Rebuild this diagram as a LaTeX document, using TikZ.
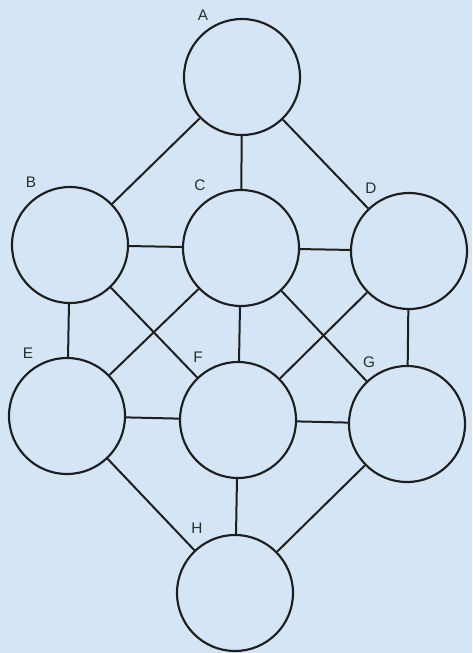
\documentclass[tikz,border=0pt]{standalone}
\usepackage{fontspec}
\setmainfont{Liberation Sans}
\definecolor{bg}{RGB}{212,230,246}
\definecolor{ink}{RGB}{30,30,30}
\definecolor{lab}{RGB}{45,45,45}
\begin{document}
\begin{tikzpicture}[x=0.75pt,y=-0.75pt,
  vert/.style={circle,draw=ink,line width=1.6pt,minimum size=87pt,inner sep=0pt},
  edge/.style={draw=ink,line width=1.5pt},
  lbl/.style={text=lab,font=\fontsize{11.5}{13}\selectfont,inner sep=0pt}]
\fill[bg] (0,0) rectangle (472,653);
\useasboundingbox (0,0) rectangle (472,653);
\node[vert] (A) at (242,77) {};
\node[vert] (B) at (70,245) {};
\node[vert] (C) at (241,248) {};
\node[vert] (D) at (409,251) {};
\node[vert] (E) at (67,416) {};
\node[vert] (F) at (238,420) {};
\node[vert] (G) at (407,424) {};
\node[vert] (H) at (235,593) {};
\node[lbl] (lA) at (203,15) {A};
\node[lbl] (lB) at (31,182) {B};
\node[lbl] (lC) at (200,185) {C};
\node[lbl] (lD) at (371,188) {D};
\node[lbl] (lE) at (28,353) {E};
\node[lbl] (lF) at (198,357) {F};
\node[lbl] (lG) at (369,362) {G};
\node[lbl] (lH) at (197,528) {H};
\foreach \a/\b in {A/B,A/C,A/D,B/C,C/D,B/E,D/G,B/F,C/E,C/F,C/G,D/F,E/F,F/G,E/H,F/H,G/H}
  \draw[edge] (\a) -- (\b);
\end{tikzpicture}
\end{document}
